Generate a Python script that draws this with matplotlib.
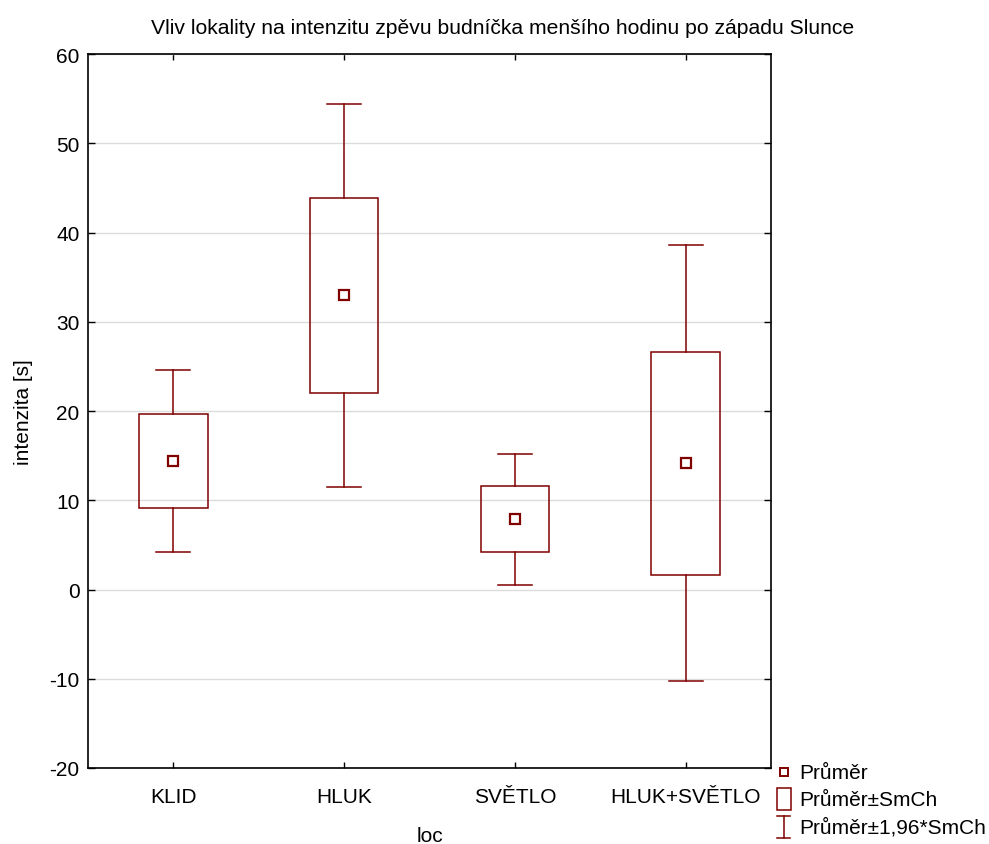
import matplotlib
matplotlib.use("Agg")
import matplotlib.pyplot as plt
from matplotlib.patches import Rectangle
from matplotlib import font_manager

names = {f.name for f in font_manager.fontManager.ttflist}
fam = "Liberation Sans Narrow" if "Liberation Sans Narrow" in names else "Liberation Sans"
plt.rcParams['font.family'] = [fam, 'DejaVu Sans']
plt.rcParams['axes.unicode_minus'] = False

categories = ["KLID", "HLUK", "SVĚTLO", "HLUK+SVĚTLO"]
means = [14.4, 33.0, 7.9, 14.2]
se_low = [9.1, 22.0, 4.15, 1.6]
se_high = [19.65, 43.9, 11.6, 26.6]
ci_low = [4.15, 11.5, 0.56, -10.25]
ci_high = [24.6, 54.4, 15.2, 38.6]
yticks = [-20, -10, 0, 10, 20, 30, 40, 50, 60]

col = "#800000"
W, H = 989, 845
fig = plt.figure(figsize=(W / 100, H / 100), dpi=100)
ax = fig.add_axes([88 / W, 1 - 769 / H, (771 - 88) / W, (769 - 55) / H])

box_w = 0.40
cap_w = 0.20
for i, c in enumerate(categories):
    ax.add_patch(Rectangle((i - box_w / 2, se_low[i]), box_w, se_high[i] - se_low[i],
                           fill=False, edgecolor=col, lw=1.1, zorder=3))
    ax.plot([i, i], [se_high[i], ci_high[i]], color=col, lw=1.1, zorder=3)
    ax.plot([i, i], [ci_low[i], se_low[i]], color=col, lw=1.1, zorder=3)
    ax.plot([i - cap_w / 2, i + cap_w / 2], [ci_high[i]] * 2, color=col, lw=1.1, zorder=3)
    ax.plot([i - cap_w / 2, i + cap_w / 2], [ci_low[i]] * 2, color=col, lw=1.1, zorder=3)
    ax.plot([i], [means[i]], marker="s", ms=7.5, mfc="white", mec=col, mew=1.6, zorder=4)

ax.set_xlim(-0.5, 3.5)
ax.set_ylim(-20, 60)
ax.set_yticks(yticks)
ax.set_xticks(range(len(categories)))
ax.set_xticklabels(categories, fontsize=15)
ax.tick_params(axis="y", labelsize=15, length=5, pad=6)
ax.tick_params(direction="in", top=True, right=True, width=1)
ax.tick_params(axis="x", length=4, pad=14)
ax.grid(axis="y", color="#dcdcdc", lw=1, zorder=0)
ax.set_axisbelow(True)
for s in ax.spines.values():
    s.set_linewidth(1.2)

ax.set_ylabel("intenzita [s]", fontsize=15, labelpad=12)
ax.set_xlabel("loc", fontsize=15, labelpad=14)
fig.text(503 / W, 1 - 28 / H, "Vliv lokality na intenzitu zpěvu budníčka menšího hodinu po západu Slunce",
         ha="center", va="center", fontsize=15.2)

# legend drawn in pixel coordinates
lg = fig.add_axes([770 / W, 0, (W - 770) / W, (H - 755) / H])
lg.set_xlim(770, W)
lg.set_ylim(H, 755)
lg.axis("off")
lg.plot([783.5], [772.5], marker="s", ms=5.5, mfc="white", mec=col, mew=1.4)
lg.add_patch(Rectangle((776.5, 789), 14.5, 22, fill=False, edgecolor=col, lw=1.1))
lg.plot([783.5, 783.5], [817, 839], color=col, lw=1.1)
lg.plot([777, 790], [817, 817], color=col, lw=1.1)
lg.plot([777, 790], [839, 839], color=col, lw=1.1)
for yy, t in zip([774, 801, 828], ["Průměr", "Průměr±SmCh", "Průměr±1,96*SmCh"]):
    lg.text(799, yy, t, fontsize=15, va="center", ha="left")

fig.savefig("out.png", dpi=100)
